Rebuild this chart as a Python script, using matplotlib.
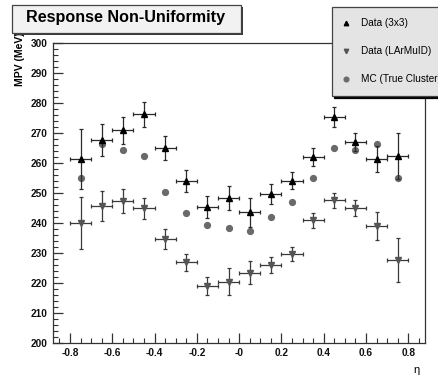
import matplotlib
matplotlib.use("Agg")
import matplotlib.pyplot as plt
from matplotlib.patches import Rectangle
from matplotlib.ticker import MultipleLocator, FixedLocator, FixedFormatter
import numpy as np

plt.rcParams['font.family'] = ['Liberation Sans', 'DejaVu Sans']

eta = [-0.75, -0.65, -0.55, -0.45, -0.35, -0.25, -0.15, -0.05,
       0.05, 0.15, 0.25, 0.35, 0.45, 0.55, 0.65, 0.75]
eta_err = [0.05] * 16

mpv_3x3 = [261.2, 267.6, 271.0, 276.3, 264.9, 254.1, 245.4, 248.2,
           243.6, 249.6, 254.1, 262.0, 275.3, 267.1, 261.4, 262.3]
err_3x3 = [10.0, 5.3, 4.5, 4.2, 4.0, 3.7, 3.7, 4.0,
           4.8, 3.4, 2.8, 3.0, 3.3, 3.0, 4.4, 7.6]

mpv_larmuid = [239.9, 245.8, 247.3, 244.9, 234.7, 226.9, 219.0, 220.4,
               223.4, 226.1, 229.7, 240.9, 247.6, 245.0, 239.1, 227.7]
err_larmuid = [8.7, 5.0, 4.0, 3.4, 3.4, 2.8, 3.0, 4.5,
               3.8, 2.6, 2.3, 2.4, 2.5, 2.8, 4.6, 7.4]

mpv_mc = [255.1, 266.4, 264.2, 262.2, 250.4, 243.2, 239.4, 238.2,
          237.3, 242.0, 247.0, 255.0, 265.0, 264.3, 266.2, 255.0]

xtick_vals = [-0.8, -0.6, -0.4, -0.2, 0.0, 0.2, 0.4, 0.6, 0.8]
xtick_labels = ['-0.8', '-0.6', '-0.4', '-0.2', '-0', '0.2', '0.4', '0.6', '0.8']

W, H = 439, 377
fig = plt.figure(figsize=(W / 100, H / 100), dpi=100)
ax = fig.add_axes([53.3 / W, 1 - 343 / H, (425 - 53.3) / W, (343 - 43) / H])

axcol = '#333333'
c1 = ax.errorbar(eta, mpv_3x3, yerr=err_3x3, xerr=eta_err, fmt='^', color='black',
                 ecolor='#2a2a2a', elinewidth=0.9, capsize=1.6, capthick=0.9,
                 markersize=4, label='Data (3x3)', zorder=4)
c2 = ax.errorbar(eta, mpv_larmuid, yerr=err_larmuid, xerr=eta_err, fmt='v',
                 color='#555555', ecolor='#3a3a3a', elinewidth=0.9, capsize=1.6,
                 capthick=0.9, markersize=4, label='Data (LArMuID)', zorder=3)
l3, = ax.plot(eta, mpv_mc, 'o', color='#6a6a6a', markersize=4.2,
              label='MC (True Cluster)', zorder=2, linestyle='none')

ax.set_xlim(-0.879, 0.879)
ax.set_ylim(200, 300)

ax.xaxis.set_major_locator(FixedLocator(xtick_vals))
ax.xaxis.set_major_formatter(FixedFormatter(xtick_labels))
ax.xaxis.set_minor_locator(MultipleLocator(0.05))
ax.yaxis.set_major_locator(MultipleLocator(10))
ax.yaxis.set_minor_locator(MultipleLocator(2))

ax.tick_params(axis='both', which='both', direction='in', color=axcol,
               top=False, right=False)
ax.tick_params(axis='y', which='major', length=7, width=0.9, pad=4)
ax.tick_params(axis='y', which='minor', length=3.5, width=0.8)
ax.tick_params(axis='x', which='major', length=7, width=0.9, pad=3.5)
ax.tick_params(axis='x', which='minor', length=3.5, width=0.8)
for lab in ax.get_xticklabels() + ax.get_yticklabels():
    lab.set_fontweight('bold')
    lab.set_fontsize(7.3)
    lab.set_color('#111111')

for s in ax.spines.values():
    s.set_color(axcol)
    s.set_linewidth(0.9)

ax.set_ylabel('MPV (MeV)', fontsize=7.5, fontweight='bold', loc='top')
ax.yaxis.set_label_coords(-0.076, 1.037)
ax.set_xlabel('η', fontsize=8, loc='right')
ax.xaxis.set_label_coords(0.986, -0.072)

leg = ax.legend(handles=[c1[0], c2[0], l3],
                labels=['Data (3x3)', 'Data (LArMuID)', 'MC (True Cluster)'],
                loc='upper left', bbox_to_anchor=(331.7 / W, 1 - 6.7 / H),
                bbox_transform=fig.transFigure, fontsize=7.2, frameon=True,
                fancybox=False, shadow={'color': 'black', 'alpha': 1.0},
                borderpad=1.15, labelspacing=1.8, handlelength=0.6,
                handletextpad=1.2, borderaxespad=0, markerscale=0.8)
frame = leg.get_frame()
frame.set_facecolor('#e4e4e4')
frame.set_edgecolor('#444444')
frame.set_linewidth(0.9)
frame.set_alpha(1)

# Title box with shadow (ROOT style)
fig.add_artist(Rectangle((14 / W, 1 - 35 / H), (241 - 12) / W, (33 - 5) / H,
                         transform=fig.transFigure, facecolor='#3a3a3a',
                         edgecolor='none'))
fig.add_artist(Rectangle((12 / W, 1 - 33 / H), (241 - 12) / W, (33 - 5) / H,
                         transform=fig.transFigure, facecolor='#f2f2f2',
                         edgecolor='#444444', linewidth=0.9))
fig.text(125.5 / W, 1 - 17.5 / H, 'Response Non-Uniformity', fontsize=11.6,
         fontweight='bold', ha='center', va='center', color='black')

fig.savefig('out.png', dpi=100)
